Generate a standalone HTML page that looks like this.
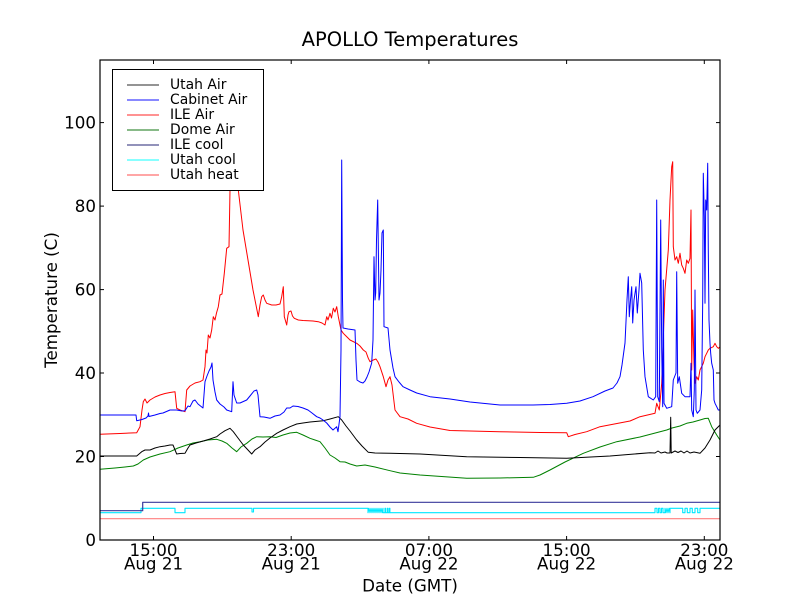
<!DOCTYPE html>
<html><head><meta charset="utf-8"><style>
html,body{margin:0;padding:0;background:#fff;}
svg{display:block;}
text{font-family:"DejaVu Sans","Liberation Sans",sans-serif;fill:#000;}
</style></head><body>
<svg width="800" height="600" viewBox="0 0 800 600" xmlns="http://www.w3.org/2000/svg">
<rect x="0" y="0" width="800" height="600" fill="#fff"/>
<defs><clipPath id="c"><rect x="100" y="60" width="620" height="480"/></clipPath></defs>
<text x="410" y="46" font-size="19.5" text-anchor="middle">APOLLO Temperatures</text>
<g clip-path="url(#c)" fill="none" stroke-width="1" stroke-linejoin="round">
<polyline stroke="#ff7f7f" stroke-width="1.2" points="100,518.7 720,518.7"/>
<polyline stroke="#00e8ff" stroke-width="1.1" points="100,512.7 141,512.7 141,508.3 175,508.3 175,512.7 185,512.7 185,508.3 252,508.3 252,512 253.5,512 253.5,508.3 368,508.3 368,512.7 369,508.3 370,512.7 371,508.3 372,512.7 373,508.3 374,512.7 375,508.3 376,512.7 377,508.3 378,512.7 379,508.3 380,512.7 381,508.3 382,512.7 383,508.3 383,512.7 385,512.7 385,508.3 385.6,508.3 385.6,512.7 387.3,512.7 387.3,508.3 387.9,508.3 387.9,512.7 389.3,512.7 389.3,508.3 389.9,508.3 389.9,512.7 655,512.7 655,508.3 657,508.3 657,512.7 658.5,512.7 658.5,508.3 660,508.3 660,512.7 661.5,512.7 661.5,508.3 663,508.3 663,512.7 665,512.7 665,508.3 666,512.7 667,508.3 668,512.7 669,508.3 670,512.7 670,508.3 682.7,508.3 682.7,512.7 685,512.7 685,508.3 687.3,508.3 687.3,512.7 690,512.7 690,508.3 692.3,508.3 692.3,512.7 695,512.7 695,508.3 697.7,508.3 697.7,512.7 700,512.7 700,508.3 720,508.3"/>
<polyline stroke="#3a3a9c" stroke-width="1.2" points="100,510.7 142.7,510.7 142.7,502.3 720,502.3"/>
<polyline stroke="#008000" points="100,469.3 115,468 125,467 133.3,466 138,464 143.3,460 150,457 160,454 170,451.7 178,448 186.7,445 193,443 200,441.7 208,440 216.7,439.3 222,441 226.7,443.3 232,448 236.7,451.7 241,447 246.7,443.3 252,439 256.7,436.7 263,437 270,436.7 276,437.5 283,435 290,433 296.7,432.3 303,435 310,438.3 315,440 320,441.7 325,448 330,455 335,458 340,461.7 345,462 350,464 356.7,466 365,465 375,467 390,470.7 400,473 420,475 466.7,478.3 500,478 533.3,477.3 540,475 550,470 565,462 583.3,453.3 600,447 616.7,441.7 640,437 666.7,430 672,428 676,427 680,426 686.7,423.3 693,422 700,420 705,418.5 708.3,418.3 711.7,426.7 716.7,435 720,440"/>
<polyline stroke="#000" points="100,456 136.7,456 141.7,451.7 145,450 150,450 155,448 160,446.7 165,446 170,445 173,445 176.7,454 180,453.5 185,453.3 188,448 190,445 196,443 203.3,441 210,439 216.7,436.7 220,434 225,430.7 230,428.3 233.3,431.7 238,438 243.3,445 248,450 251.7,454 255,450 260,446.7 265,442 270,438 276.7,433.3 283,430 290,426.7 296.7,424 303,423 310,422 323.3,420.7 330,419 338.3,416.7 341.7,420 346,426 350,431 356.7,440 362,446 368.3,452.3 375,453 390,453.3 420,454 466.7,456.7 520,457.5 566.7,458.3 610,456 650,452.7 655,453 658,451 661,453 665,452 667,453 670,453 670.7,417.3 671.2,453 675,451 678,452.5 681,451 684,453 687,451 690,453 694,452 700,453.3 705,448 710,440 715,430 720,425"/>
<polyline stroke="#ff0000" points="100,434.3 120,433.5 136.7,432.7 140,426.7 142,410 143.3,401.7 145,399 147,403 150,400 155,397 160,395 165,393.5 170,392.5 175,391.7 176.7,408.3 180,410 185,411.7 186.7,390 190,386 195,383 200,381.7 203,380 205,366.7 206,350 207,353 208.3,335 210,338 211.7,330 213.3,316.7 215,320 216.5,313 218.3,306.7 220,295 222,294 224.3,273.3 226.7,248.3 229,246.7 230,190 231,150 235,150 238.3,190 243,230 248,260 253,290 258.3,316.7 260,305 261.7,296.7 263.3,295 265,300 266.7,303.3 271.7,305 276,305 280,304 281.7,296.7 283.3,286.7 284.3,316.7 286.7,325 288,315 289,311.7 291,311 292.5,316 294.3,318.3 298.3,320 303,320.5 308.3,320.7 313,321 318.3,321.7 322,323 325,325 326.7,316.7 328,320 330,313.3 331.5,318 333.3,308.3 335,312 336.7,306.7 338.3,316.7 341,330 343.3,333.3 346,336 350,340 356.7,343.3 360,346 363.3,350 366,352 368.3,358.3 370,361.7 373.3,360 376,359 378,362 380,366.7 383.3,376.7 386,386.7 388,380 390,376.7 392,385 395,410 400,416.7 408,419 416.7,423.3 430,427 450,430.5 500,431.7 540,432.5 566.7,432.7 568.3,436.7 575,434.5 586.7,431.7 600,426.7 630,421 640,416.7 655,413.3 656.7,403.3 659.3,410 661.7,383.3 665,290 668.3,250 670,200 671.7,166.7 672.7,161.7 673.3,246.7 675,260 676.7,256.7 678.3,263.3 680,253.3 681.7,265 683.3,268.3 685,273.3 686.7,260 688.3,263.3 690,258.3 691,210 691.7,370 692.7,310 694,363 695,383.3 696.7,376.7 698.3,380 700,370 703.3,363.3 705,356.7 706.7,353.3 708.3,350 710,348.3 713.3,346.7 715,343.3 716.7,346.7 718.3,348.3 720,347"/>
<polyline stroke="#0000ff" points="100,415 136,415 136.7,420.7 142,419.5 146,418 148,416 148.5,413 149,416.5 155,415 160,413.5 163,413 170,410 176.7,410 182,411 185,410.7 188,406 190,406.7 193,401 195,400 198,404 203,408 205,381.7 207,376 209,371 211,367 212,363 213,380 215,392 216.7,400 220,404 224,407 226.7,410 231.7,411.7 233,381.7 234,395 236.7,403 240,403 246.7,400 250,396 254,391 256.7,390 258,395 260,416.7 264,417 270,418.3 275,416 280,415 284,412 286.7,408 290,408 293,406 298,406.5 303,408 308,410 312,413 316.7,416.7 320,418 323,420 326.7,423 330,427 333,430 336.7,426.7 338,431.7 340,416.7 341,350 341.7,160 342.5,300 343,328 348,329 355,330 356,360 357,380 360,382 363,383 365,381 367,377 369,372 371.7,363 373,340 374,256.7 375,300 375.7,293 376.5,240 377.7,200 379,300 380,293 381,270 382,233 383.3,230 384,326.7 388,328 390,350 393,368 395,376.7 399,382 403,386.7 410,390 416.7,393 430,396.7 450,399 470,402 500,405 533,405 550,404.5 566.7,403.3 580,401 593,396.7 605,391 613,388 617,383 620,376.7 622,365 625,343 627,300 628.3,276.7 629.3,316.7 630.5,300 631.7,286.7 632.7,323 634,300 636,286.7 637.3,313 639,290 640,273.3 641.7,283 643.3,350 645,376.7 648.3,396.7 653.3,400 655.7,396.7 656.7,200 657.7,396.7 659.3,401.7 660.7,220 661.7,350 662.7,406.7 663.3,280 664,403.3 666.7,408.3 671.7,406.7 673.3,380 676,373 676.7,271.7 677.7,383.3 679.3,376.7 681.7,393.3 685,396.7 690,396.7 691,363.3 691.7,410 693.3,416.7 694.3,390 695,290 696,410 697.3,413.3 700,410 701.7,390 702.7,300 703.3,173.3 704.3,216.7 705,303.3 705.7,200 706.7,210 707.7,163.3 708.3,250 709,320 710,343.3 710.7,353.3 711.7,363.3 713.3,370 714,400 715,403.3 716.7,406.7 718.3,410 720,410"/>
</g>
<rect x="100" y="60" width="620" height="480" fill="none" stroke="#000" stroke-width="1.2"/>
<g stroke="#000" stroke-width="1">
<line x1="153.5" y1="540" x2="153.5" y2="536"/><line x1="153.5" y1="60" x2="153.5" y2="64"/>
<line x1="291.2" y1="540" x2="291.2" y2="536"/><line x1="291.2" y1="60" x2="291.2" y2="64"/>
<line x1="428.9" y1="540" x2="428.9" y2="536"/><line x1="428.9" y1="60" x2="428.9" y2="64"/>
<line x1="566.6" y1="540" x2="566.6" y2="536"/><line x1="566.6" y1="60" x2="566.6" y2="64"/>
<line x1="704.3" y1="540" x2="704.3" y2="536"/><line x1="704.3" y1="60" x2="704.3" y2="64"/>
<line x1="100" y1="456.5" x2="104" y2="456.5"/><line x1="720" y1="456.5" x2="716" y2="456.5"/>
<line x1="100" y1="373" x2="104" y2="373"/><line x1="720" y1="373" x2="716" y2="373"/>
<line x1="100" y1="289.6" x2="104" y2="289.6"/><line x1="720" y1="289.6" x2="716" y2="289.6"/>
<line x1="100" y1="206.1" x2="104" y2="206.1"/><line x1="720" y1="206.1" x2="716" y2="206.1"/>
<line x1="100" y1="122.6" x2="104" y2="122.6"/><line x1="720" y1="122.6" x2="716" y2="122.6"/>
</g>
<g font-size="16.7" text-anchor="end">
<text x="96" y="546">0</text>
<text x="96" y="462.5">20</text>
<text x="96" y="379">40</text>
<text x="96" y="295.6">60</text>
<text x="96" y="212.1">80</text>
<text x="96" y="128.6">100</text>
</g>
<g font-size="16.7" text-anchor="middle">
<text x="153.5" y="556">15:00</text><text x="153.5" y="569.5">Aug 21</text>
<text x="291.2" y="556">23:00</text><text x="291.2" y="569.5">Aug 21</text>
<text x="428.9" y="556">07:00</text><text x="428.9" y="569.5">Aug 22</text>
<text x="566.6" y="556">15:00</text><text x="566.6" y="569.5">Aug 22</text>
<text x="704.3" y="556">23:00</text><text x="704.3" y="569.5">Aug 22</text>
</g>
<text x="410" y="591.5" font-size="16.7" text-anchor="middle">Date (GMT)</text>
<text transform="translate(57,300) rotate(-90)" font-size="16.7" text-anchor="middle">Temperature (C)</text>
<rect x="112.5" y="69.5" width="151" height="121" fill="#fff" stroke="#000" stroke-width="1"/>
<g stroke-width="1.2">
<line x1="127" y1="85" x2="159" y2="85" stroke="#555"/>
<line x1="127" y1="100" x2="159" y2="100" stroke="#4040ff"/>
<line x1="127" y1="115" x2="159" y2="115" stroke="#ff5050"/>
<line x1="127" y1="130" x2="159" y2="130" stroke="#409040"/>
<line x1="127" y1="145" x2="159" y2="145" stroke="#505090"/>
<line x1="127" y1="160" x2="159" y2="160" stroke="#40ffff"/>
<line x1="127" y1="175" x2="159" y2="175" stroke="#ff7070"/>
</g>
<g font-size="13.9">
<text x="170" y="89">Utah Air</text>
<text x="170" y="104">Cabinet Air</text>
<text x="170" y="119">ILE Air</text>
<text x="170" y="134">Dome Air</text>
<text x="170" y="149">ILE cool</text>
<text x="170" y="164">Utah cool</text>
<text x="170" y="179">Utah heat</text>
</g>
</svg>
</body></html>
